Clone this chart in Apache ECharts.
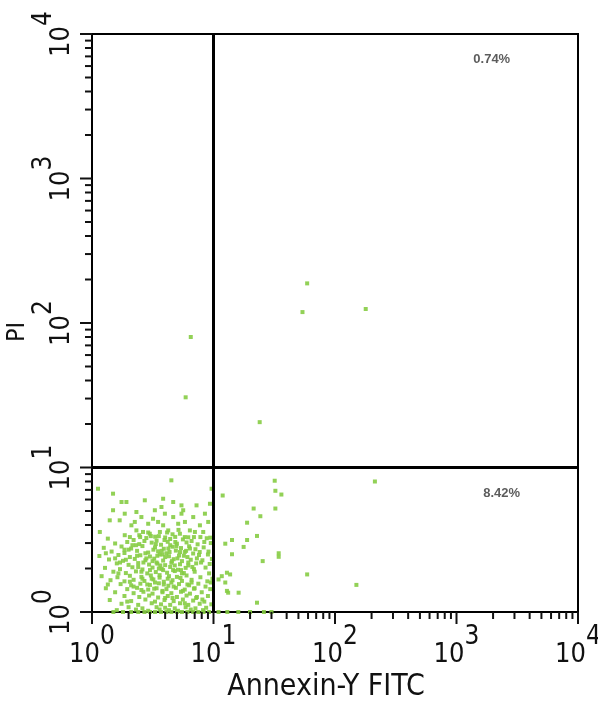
<!DOCTYPE html>
<html>
<head>
<meta charset="utf-8">
<script src="https://cdn.jsdelivr.net/npm/echarts@6/dist/echarts.min.js"></script>
<style>
html,body{margin:0;padding:0;background:#fff;}
#chart{width:598px;height:709px;}
</style>
</head>
<body>
<div id="chart"></div>
<script>
// Axis ranges and labels
const axisMin = 1;
const axisMax = 10000;
const xAxisTitle = 'Annexin-Y FITC';
const yAxisTitle = 'PI';
const majorTickValues = [1,10,100,1000,10000];
const minorTickValues = [2,3,4,5,6,7,8,9,20,30,40,50,60,70,80,90,200,300,400,500,600,700,800,900,2000,3000,4000,5000,6000,7000,8000,9000];

// Quadrant gates
const gateX = 10;
const gateY = 10;

// Quadrant percentages and where they are printed (data coordinates)
const quadrantLabels = ['0.74%', '8.42%'];
const quadrantLabelPos = [[1950, 6700], [2350, 6.6]];

// Events: upper quadrants
const cellsUpper = [
  [59,188],[54,119],[179,125],[6.5,80],[5.9,30.6],[24,20.6]
];

// Events: lower-right quadrant
const cellsLowerRight = [
  [213,8.0],[31.9,8.1],[32.3,6.9],[36.2,6.5],[21.4,5.2],[32.3,5.2],[24.3,4.6],[18.9,4.15],
  [11.9,6.4],[22.8,3.36],[18.9,3.15],[14.2,3.15],[12.5,2.97],[17.7,2.82],[14.2,2.51],
  [34.4,2.55],[34.4,2.41],[25.4,2.25],[59,1.82],[150,1.54],[12.9,1.87],[13.7,1.82],
  [11.7,1.77],[11.0,1.68],[12.5,1.6],[12.9,1.40],[13.2,1.36],[16.1,1.36],[22.8,1.16],
  [11,1.0],[13,1.0],[16,1.0],[20,1.0],[26,1.0],[30,1.0]
];

// Events: lower-left quadrant (main population)
const cellsLowerLeft = [
  [4.5,8.15],[1.12,7.13],[1.49,6.59],[1.75,5.77],[1.92,5.77],[2.72,5.93],[3.85,6.08],[4.66,5.77],
  [5.45,5.47],[5.63,5.06],[7.25,5.47],[9.35,5.61],[9.64,7.13],[1.49,5.06],[1.86,4.79],[2.32,4.92],
  [2.55,4.54],[3.29,5.06],[3.73,5.33],[3.98,4.79],[3.18,4.42],[4.66,4.54],[5.45,4.79],[6.81,4.54],
  [8.5,4.79],[1.40,4.31],[1.69,4.31],[2.25,4.2],[2.11,3.98],[2.9,4.08],[3.5,4.2],[3.85,3.98],
  [5.12,4.08],[5.82,4.2],[7.73,3.98],[9.05,4.2],[1.16,3.58],[2.32,3.67],[2.63,3.58],[2.99,3.48],
  [3.62,3.58],[4.24,3.67],[5.29,3.48],[6.39,3.67],[7.03,3.58],[8.23,3.58],[1.86,3.4],[2.05,3.3],
  [2.49,3.3],[3.31,3.32],[4.0,3.28],[4.84,3.31],[6.2,3.29],[7.8,3.3],[9.4,3.27],
  [1.35,3.22],[2.2,3.15],[2.8,3.25],[3.4,3.12],[4.4,3.2],[5.6,3.18],[6.6,3.1],[8.8,3.24],
  [1.55,2.98],[1.95,3.05],[2.45,2.95],[3.1,3.02],[3.7,2.92],[4.2,3.06],[5.0,2.97],[6.0,3.03],[7.4,2.94],[9.5,3.0],
  [1.25,2.78],[1.75,2.84],[2.1,2.75],[2.6,2.86],[3.3,2.8],[3.9,2.74],[4.6,2.83],[5.4,2.77],[6.3,2.85],[7.1,2.72],[8.3,2.8],
  [1.45,2.62],[1.85,2.56],[2.35,2.65],[2.9,2.58],[3.5,2.63],[4.1,2.55],[4.9,2.66],[5.8,2.6],[6.8,2.54],[9.1,2.62],
  [1.15,2.44],[1.65,2.48],[2.05,2.4],[2.5,2.47],[3.0,2.42],[3.6,2.5],[4.3,2.43],[5.2,2.46],[6.1,2.4],[7.6,2.48],
  [1.38,2.31],[1.8,2.26],[2.25,2.33],[2.75,2.28],[3.25,2.34],[3.85,2.27],[4.7,2.32],[5.5,2.25],[6.5,2.3],[8.1,2.28],[9.7,2.33],
  [1.6,2.17],[2.0,2.12],[2.4,2.18],[2.95,2.13],[3.45,2.16],[4.0,2.11],[4.5,2.19],[5.3,2.14],[6.2,2.1],[7.2,2.17],
  [1.28,2.02],[1.7,1.98],[2.15,2.04],[2.6,1.97],[3.15,2.03],[3.75,1.99],[4.4,2.05],[5.1,1.96],[5.9,2.02],[6.9,1.98],[8.6,2.03],
  [1.5,1.9],[1.9,1.86],[2.3,1.91],[2.85,1.85],[3.35,1.89],[4.15,1.87],[4.8,1.92],[5.7,1.86],[7.0,1.9],[9.2,1.85],
  [1.2,1.77],[1.62,1.74],[2.05,1.78],[2.55,1.75],[3.05,1.79],[3.6,1.73],[4.3,1.77],[5.0,1.75],[6.0,1.79],[7.8,1.74],
  [1.42,1.66],[1.85,1.63],[2.2,1.67],[2.7,1.64],[3.2,1.68],[3.9,1.62],[4.6,1.66],[5.5,1.64],[6.6,1.67],[8.9,1.63],
  [1.72,1.56],[2.1,1.53],[2.5,1.57],[3.0,1.54],[3.55,1.58],[4.25,1.52],[5.2,1.56],[6.3,1.53],[7.5,1.57],
  [1.3,1.46],[1.95,1.44],[2.35,1.47],[2.9,1.43],[3.4,1.46],[4.1,1.44],[4.9,1.47],[5.8,1.43],[7.0,1.46],[9.4,1.44],
  [1.55,1.37],[2.2,1.35],[2.65,1.38],[3.15,1.34],[3.8,1.37],[4.5,1.35],[5.4,1.38],[6.4,1.34],[8.0,1.37],
  [1.85,1.29],[2.45,1.27],[2.95,1.3],[3.5,1.26],[4.2,1.29],[5.0,1.27],[6.0,1.3],[7.3,1.27],[9.0,1.29],
  [1.4,1.21],[2.1,1.19],[2.75,1.22],[3.3,1.18],[3.95,1.21],[4.7,1.19],[5.6,1.22],[6.8,1.2],[8.4,1.18],
  [1.75,1.14],[2.4,1.12],[3.1,1.15],[3.7,1.13],[4.4,1.12],[5.3,1.15],[6.2,1.12],[7.7,1.14],[9.6,1.13],
  [2.0,1.08],[2.6,1.06],[3.4,1.08],[4.0,1.07],[4.8,1.06],[5.9,1.08],[7.1,1.06],[8.7,1.07],
  [1.6,1.03],[2.3,1.04],[2.9,1.02],[3.6,1.04],[4.3,1.03],[5.1,1.02],[6.5,1.04],[8.2,1.03],
  [2.3,2.9],[2.7,3.1],[3.2,2.7],[3.8,2.5],[4.4,2.9],[2.8,2.35],[3.4,2.2],[4.0,2.4],[4.8,2.1],[2.4,2.05],
  [3.0,1.95],[3.6,1.8],[4.2,1.7],[2.6,1.7],[3.3,1.6],[4.7,1.5],[5.5,1.85],[5.3,2.6],[6.2,2.2],[5.8,3.3],
  [1.9,2.3],[2.0,2.7],[3.55,3.35],[4.6,3.45],[2.2,1.5],[3.8,1.4],[5.6,1.4],[4.0,1.25],[6.6,1.6],[7.3,2.35],
  [1.3,2.55],[1.7,2.2],[2.15,2.9],[2.45,3.4],[2.9,3.55],[3.15,2.25],[3.35,2.95],[3.65,2.1],[3.95,3.15],[4.35,2.6],
  [4.55,2.25],[4.95,2.85],[5.15,3.7],[5.7,2.45],[6.4,2.75],[6.9,3.3],[7.7,2.6],[8.4,3.05],[9.3,2.15],[9.8,1.7],
  [8.6,1.5],[7.2,1.25],[6.1,1.55],[5.4,1.95],[4.5,1.6],[3.85,1.95],[3.1,1.7],[2.55,1.9],[2.05,1.62],[1.65,1.85],
  [1.35,1.55],[1.95,1.18],[2.55,1.42],[3.25,1.45],[3.9,1.55],[4.6,1.25],[5.8,1.15],[6.9,1.45],[8.1,1.22],[9.5,1.6],
  [2.75,2.55],[3.45,2.45],[4.25,2.75],[5.05,2.35],[2.35,2.45],[3.75,2.65],[4.85,3.05],[5.95,2.65],[3.05,3.35],[4.15,3.55],
  [2.65,2.2],[3.55,2.0],[4.65,1.95],[5.35,1.72],[2.85,1.55],[1.55,2.35],[1.85,2.7],[6.7,2.05],[7.9,2.2],[9.0,2.5],
  [1.5,1.0],[1.8,1.0],[2.1,1.0],[2.4,1.0],[2.7,1.0],[3.0,1.0],[3.3,1.0],[3.7,1.0],[4.1,1.0],[4.5,1.0],
  [5.0,1.0],[5.5,1.0],[6.1,1.0],[6.8,1.0],[7.5,1.0],[8.3,1.0],[9.2,1.0]
];

const allCells = cellsLowerLeft.concat(cellsLowerRight, cellsUpper);

const fontFam = '"Liberation Sans Narrow", "DejaVu Sans Condensed", "Liberation Sans", Arial, sans-serif';
const labelRich = {
  b: {fontSize: 27, fontFamily: fontFam, color: '#111', lineHeight: 44, verticalAlign: 'bottom'},
  s: {fontSize: 26, fontFamily: fontFam, color: '#111', lineHeight: 28, verticalAlign: 'top'}
};
const expFormatter = (v) => '{b|10}{s|' + Math.round(Math.log10(v)) + '}';

const chart = echarts.init(document.getElementById('chart'));
chart.setOption({
  animation: false,
  backgroundColor: '#fff',
  grid: {left: 92, right: 20, top: 34, bottom: 97, show: true, borderColor: '#000', borderWidth: 2,
         containLabel: false, outerBoundsMode: 'none'},
  xAxis: {
    type: 'log', logBase: 10, min: axisMin, max: axisMax,
    name: xAxisTitle, nameLocation: 'middle', nameGap: 60, nameMoveOverlap: false,
    nameTextStyle: {fontSize: 30, fontFamily: fontFam, color: '#111', padding: [0, 18, 0, 0], verticalAlign: 'top'},
    axisLine: {show: true, lineStyle: {color: '#000', width: 2}},
    axisTick: {show: false},
    splitLine: {show: false},
    axisLabel: {margin: 12, formatter: expFormatter, rich: labelRich}
  },
  yAxis: {
    type: 'log', logBase: 10, min: axisMin, max: axisMax,
    name: yAxisTitle, nameLocation: 'middle', nameGap: 62, nameRotate: 90, nameMoveOverlap: false,
    nameTextStyle: {fontSize: 25, fontFamily: fontFam, color: '#111', padding: [0, 18, 0, 0]},
    axisLine: {show: true, lineStyle: {color: '#000', width: 2}},
    axisTick: {show: false},
    splitLine: {show: false},
    axisLabel: {margin: 17, rotate: 90, formatter: expFormatter, rich: labelRich}
  },
  series: [
    {
      type: 'scatter',
      data: allCells,
      symbol: 'rect',
      symbolSize: 4,
      itemStyle: {color: '#86cc44', opacity: 0.9},
      silent: true,
      markLine: {
        silent: true,
        symbol: ['none', 'none'],
        label: {show: false},
        lineStyle: {color: '#000', width: 3, type: 'solid'},
        data: [{xAxis: gateX}, {yAxis: gateY}]
      },
      z: 2
    },
    {
      type: 'scatter',
      data: quadrantLabelPos.map((p, i) => ({value: p, name: quadrantLabels[i]})),
      symbolSize: 0,
      silent: true,
      label: {show: true, position: 'inside', formatter: '{b}', fontSize: 13, fontWeight: 'bold', color: '#333', fontFamily: '"Liberation Sans", Arial, sans-serif'}
    }
  ]
});

// Axis ticks (major and minor, log-spaced), placed through the chart's own axis scales
function buildTicks() {
  const els = [];
  const addX = (v, len) => {
    const p = chart.convertToPixel({gridIndex: 0}, [v, axisMin]);
    els.push({type: 'line', silent: true, z: 100, shape: {x1: p[0], y1: p[1], x2: p[0], y2: p[1] + len}, style: {stroke: '#111', lineWidth: 2}});
  };
  const addY = (v, len) => {
    const p = chart.convertToPixel({gridIndex: 0}, [axisMin, v]);
    els.push({type: 'line', silent: true, z: 100, shape: {x1: p[0] - len, y1: p[1], x2: p[0], y2: p[1]}, style: {stroke: '#111', lineWidth: 2}});
  };
  majorTickValues.forEach(v => { addX(v, 12); addY(v, 12); });
  minorTickValues.forEach(v => { addX(v, 7); addY(v, 7); });
  chart.setOption({graphic: {elements: els}});
}
buildTicks();
</script>
</body>
</html>
